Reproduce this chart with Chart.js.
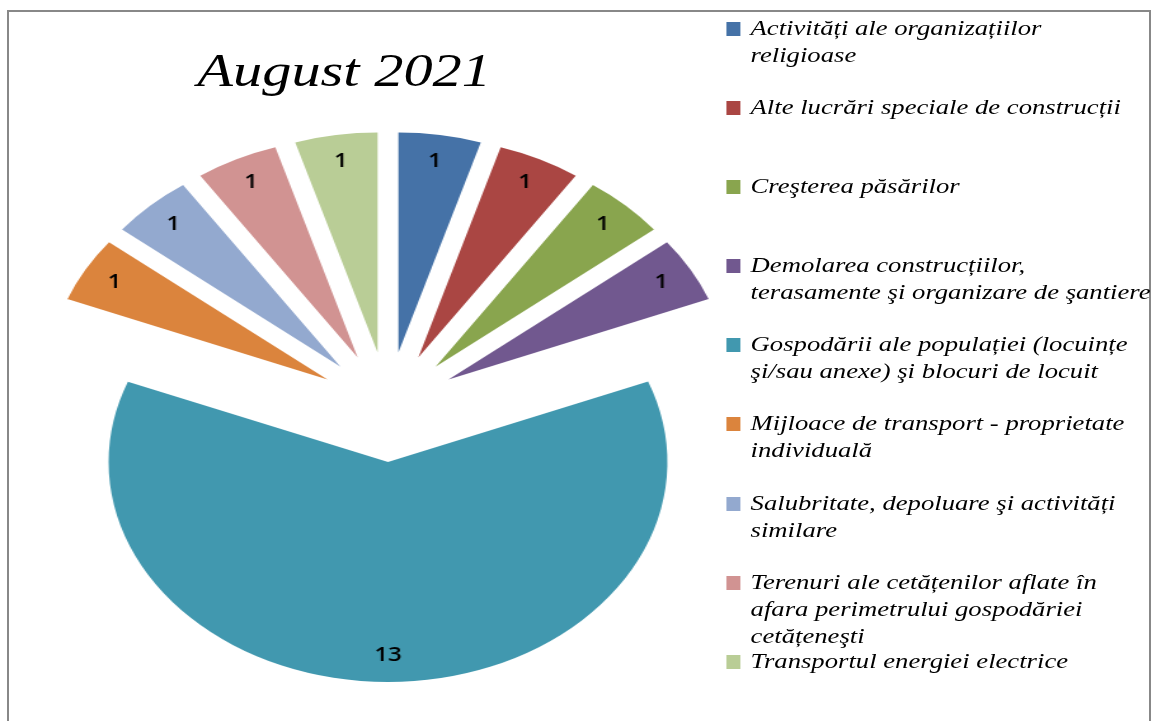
<!DOCTYPE html>
<html lang="ro">
<head>
<meta charset="utf-8">
<title>August 2021</title>
<script src="https://cdn.jsdelivr.net/npm/chart.js@4.4.0/dist/chart.umd.min.js"></script>
<style>
  html, body { margin: 0; padding: 0; background: #fff; }
  #cadru { position: absolute; left: 7px; top: 10px; width: 1140px; height: 720px; border: 2px solid #888; border-bottom: none; }
  /* imaginea originala e intinsa pe orizontala, asa ca intindem si noi scena */
  #scena { position: absolute; left: 0; top: 0; width: 911px; height: 721px; transform: scaleX(1.27); transform-origin: 0 0; }
  #scena canvas { position: absolute; left: 0; top: 0; }
  #titlu { position: absolute; left: 71px; width: 400px; top: 48px; text-align: center; font: italic 46px/46px "Liberation Serif"; color: #000; }
  #legenda { position: absolute; left: 572px; top: 14.5px; font: italic 21px/27px "Liberation Serif"; color: #000; }
  .rand { position: relative; height: 79.2px; padding-left: 19px; white-space: nowrap; }
  .patrat { position: absolute; left: 0; top: 7px; width: 11px; height: 14px; }
</style>
</head>
<body>
<div id="cadru"></div>
<div id="scena">
  <canvas id="feliaMare" width="911" height="721"></canvas>
  <canvas id="feliiMici" width="911" height="721"></canvas>
  <div id="titlu">August 2021</div>
  <div id="legenda"></div>
</div>
<script>
const categorii = [
  ["Activități ale organizațiilor", "religioase"],
  ["Alte lucrări speciale de construcții"],
  ["Creşterea păsărilor"],
  ["Demolarea construcțiilor,", "terasamente şi organizare de şantiere"],
  ["Gospodării ale populației (locuințe", "şi/sau anexe) şi blocuri de locuit"],
  ["Mijloace de transport - proprietate", "individuală"],
  ["Salubritate, depoluare şi activități", "similare"],
  ["Terenuri ale cetățenilor aflate în", "afara perimetrului gospodăriei", "cetățeneşti"],
  ["Transportul energiei electrice"]
];
const valori = [1, 1, 1, 1, 13, 1, 1, 1, 1];
const culori = ["#4572A7", "#AA4643", "#89A54E", "#71588F", "#4198AF", "#DB843D", "#93A9CF", "#D19392", "#B9CD96"];

const RAZA = 220;      // raza vizibila a feliilor
const DEPLASARE = 55;  // cat e scoasa fiecare felie din centru

const total = valori.reduce((a, b) => a + b, 0);
const iMare = valori.indexOf(Math.max(...valori));

// chart.js mareste raza si ingusteaza unghiul unei felii scoase cu offset;
// calculam raza si un spacing negativ ca felia sa ramana ca in Excel
function geometrie(v) {
  const alfa = 2 * Math.PI * v / total;
  const ro = DEPLASARE * (1 - Math.sin(Math.min(Math.PI, alfa)));
  const k = (alfa + ro / (Math.PI * RAZA)) / alfa;
  const s = (1 - k) * RAZA / (1 + k);
  return { radius: RAZA - ro - s, spacing: 2 * s };
}

function setDate(doarMare) {
  const g = geometrie(doarMare ? valori[iMare] : Math.min(...valori));
  return {
    data: valori,
    backgroundColor: culori.map((c, i) => ((i === iMare) === doarMare ? c : "rgba(0,0,0,0)")),
    borderWidth: 0,
    offset: DEPLASARE * 4,
    hoverOffset: 0,
    radius: g.radius,
    spacing: g.spacing
  };
}

const eticheteValori = {
  id: "eticheteValori",
  afterDatasetsDraw(chart) {
    const ctx = chart.ctx;
    ctx.save();
    ctx.font = "600 19px 'Open Sans'";
    ctx.fillStyle = "#000";
    ctx.textAlign = "center";
    ctx.textBaseline = "middle";
    chart.getDatasetMeta(0).data.forEach((arc, i) => {
      const p = arc.getProps(["x", "y", "startAngle", "endAngle"], true);
      const unghi = (p.startAngle + p.endAngle) / 2;
      const d = DEPLASARE + RAZA * 0.88;
      ctx.fillText(String(valori[i]), p.x + Math.cos(unghi) * d, p.y + Math.sin(unghi) * d);
    });
    ctx.restore();
  }
};

function optiuni() {
  return {
    responsive: false,
    animation: false,
    events: [],
    layout: { padding: { left: 0, right: 300, top: 93, bottom: 0 } },
    plugins: { legend: { display: false }, tooltip: { enabled: false } }
  };
}

let canvasMare = document.getElementById("feliaMare").getContext("2d");
var chartMare = new Chart(canvasMare, {
  type: "pie",
  data: { labels: categorii, datasets: [setDate(true)] },
  options: optiuni()
});

let canvasMici = document.getElementById("feliiMici").getContext("2d");
var chartMici = new Chart(canvasMici, {
  type: "pie",
  data: { labels: categorii, datasets: [setDate(false)] },
  options: optiuni(),
  plugins: [eticheteValori]
});

// legenda
const legenda = document.getElementById("legenda");
categorii.forEach((randuri, i) => {
  const rand = document.createElement("div");
  rand.className = "rand";
  const patrat = document.createElement("span");
  patrat.className = "patrat";
  patrat.style.background = culori[i];
  rand.appendChild(patrat);
  randuri.forEach((t) => {
    const linie = document.createElement("div");
    linie.textContent = t;
    rand.appendChild(linie);
  });
  legenda.appendChild(rand);
});
</script>
</body>
</html>
